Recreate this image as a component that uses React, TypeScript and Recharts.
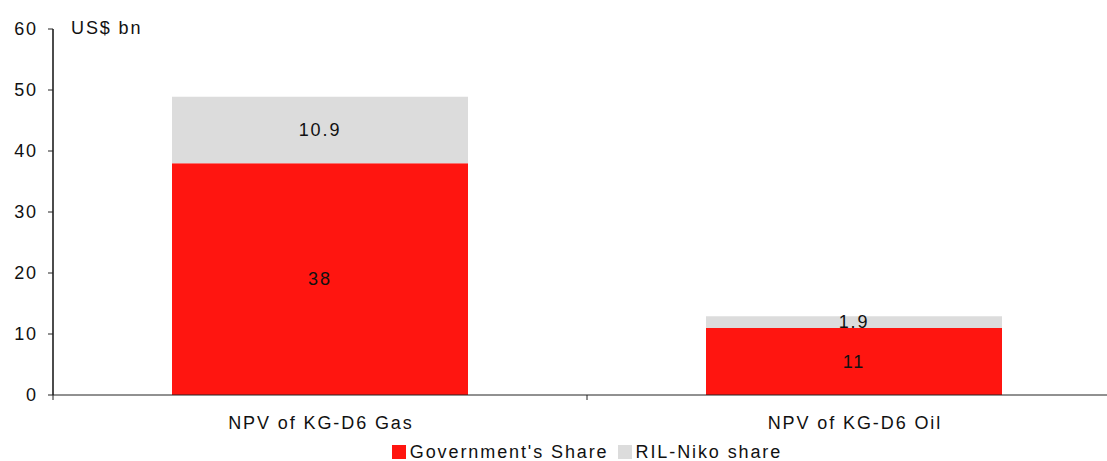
import { BarChart, Bar, XAxis, YAxis, Legend, LabelList } from 'recharts';

const categories = ['NPV of KG-D6 Gas', 'NPV of KG-D6 Oil'];
const governmentShare = [38, 11];
const rilNikoShare = [10.9, 1.9];
const yTicks = [0, 10, 20, 30, 40, 50, 60];

const RED = '#FF1510';
const GREY = '#DCDCDC';
const FONT = '"Liberation Sans", Arial, sans-serif';
const FS = 18;
const LS = 1.9;

const WIDTH = 1107;
const HEIGHT = 461;
const MARGIN = { top: 29, right: -14, left: 0, bottom: 0 };
const Y_AXIS_W = 53;
const PLOT_W = WIDTH - Y_AXIS_W - MARGIN.right - MARGIN.left;
const HALF_BAND = PLOT_W / categories.length / 2;

const data = categories.map((name, i) => ({
  name,
  gov: governmentShare[i],
  ril: rilNikoShare[i],
}));

function CategoryTick(props: any) {
  const { x, y, payload } = props;
  return (
    <g>
      <line x1={x - HALF_BAND} x2={x - HALF_BAND} y1={y} y2={y + 5} stroke="#222" strokeWidth={1} />
      <text
        x={x + LS / 2}
        y={y + 34}
        textAnchor="middle"
        fill="#111"
        fontSize={FS}
        fontFamily={FONT}
        letterSpacing={LS}
      >
        {payload.value}
      </text>
    </g>
  );
}

function LegendBox() {
  const item = (color: string, label: string, gap: number) => (
    <span style={{ display: 'inline-flex', alignItems: 'center', marginRight: gap }}>
      <span style={{ width: 14, height: 14, background: color, display: 'inline-block', marginRight: 4 }} />
      <span>{label}</span>
    </span>
  );
  return (
    <div
      style={{
        textAlign: 'center',
        fontFamily: FONT,
        fontSize: FS,
        letterSpacing: LS,
        color: '#111',
        lineHeight: '20px',
        paddingTop: 7,
      }}
    >
      {item(RED, "Government's Share", 9)}
      {item(GREY, 'RIL-Niko share', 0)}
    </div>
  );
}

export default function App() {
  return (
    <div style={{ position: 'absolute', left: 0, top: 0, width: WIDTH, height: HEIGHT, background: '#fff', overflow: 'hidden' }}>
      <BarChart width={WIDTH} height={HEIGHT} data={data} margin={MARGIN} barSize={296}>
        <XAxis
          dataKey="name"
          height={40}
          tickLine={false}
          tickSize={0}
          tickMargin={0}
          axisLine={{ stroke: '#222', strokeWidth: 1 }}
          tick={<CategoryTick />}
          interval={0}
        />
        <YAxis
          width={Y_AXIS_W}
          domain={[0, 60]}
          ticks={yTicks}
          tickSize={5}
          tickMargin={10}
          tickLine={{ stroke: '#222' }}
          axisLine={{ stroke: '#111', strokeWidth: 1.5 }}
          tick={{ fill: '#111', fontSize: FS, fontFamily: FONT, letterSpacing: LS }}
        />
        <Legend
          verticalAlign="bottom"
          height={26}
          wrapperStyle={{ left: Y_AXIS_W, width: PLOT_W }}
          content={() => <LegendBox />}
        />
        <Bar dataKey="gov" stackId="a" fill={RED} isAnimationActive={false}>
          <LabelList dataKey="gov" position="center" fill="#111" fontSize={FS} fontFamily={FONT} letterSpacing={LS} />
        </Bar>
        <Bar dataKey="ril" stackId="a" fill={GREY} isAnimationActive={false}>
          <LabelList dataKey="ril" position="center" fill="#111" fontSize={FS} fontFamily={FONT} letterSpacing={LS} />
        </Bar>
      </BarChart>
      <div style={{ position: 'absolute', left: 71, top: 18, fontFamily: FONT, fontSize: FS, letterSpacing: LS, color: '#111' }}>
        US$ bn
      </div>
    </div>
  );
}
